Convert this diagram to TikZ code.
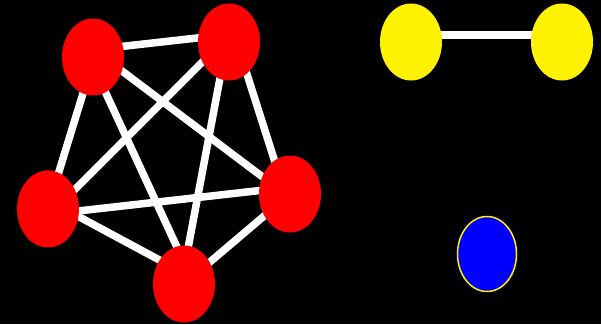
\documentclass[tikz,border=0pt]{standalone}
\usetikzlibrary{shapes.geometric,calc}
\pgfdeclarelayer{bg}
\pgfsetlayers{bg,main}
\begin{document}
\begin{tikzpicture}[x=1pt,y=-1pt,
  vert/.style={ellipse, minimum width=62pt, minimum height=77pt, inner sep=0pt},
  rednode/.style={vert, fill=red},
  yelnode/.style={vert, fill=yellow},
  bluenode/.style={vert, fill=blue, draw=yellow, line width=1.5pt, minimum width=59pt, minimum height=75pt},
  edge/.style={white, line width=7.5pt}]
\node[rednode] (a) at (93,57) {};
\node[rednode] (b) at (229,42) {};
\node[rednode] (c) at (48,209) {};
\node[rednode] (d) at (290,194) {};
\node[rednode] (e) at (184,284) {};
\node[yelnode] (y1) at (411,42) {};
\node[yelnode] (y2) at (562,42) {};
\node[bluenode] (bl) at (487,254) {};
\begin{pgfonlayer}{bg}
\fill[black] (0,0) rectangle (601,324);
\draw[edge] ($(a.center)+(0,-7.3)$) -- ($(b.center)+(0,-7.6)$);
\draw[edge] ($(a.center)+(1.2,0)$) -- ($(c.center)+(-0.5,0)$);
\draw[edge] ($(a.center)+(0,-7.9)$) -- ($(d.center)+(0,3.6)$);
\draw[edge] ($(a.center)+(-3.8,0)$) -- ($(e.center)+(10,0)$);
\draw[edge] ($(b.center)+(0,-6.6)$) -- ($(c.center)+(0,7.4)$);
\draw[edge] ($(b.center)+(7.7,0)$) -- ($(d.center)+(-4.8,0)$);
\draw[edge] ($(b.center)+(-2.2,0)$) -- ($(e.center)+(-2.7,0)$);
\draw[edge] ($(c.center)+(0,5.4)$) -- ($(d.center)+(0,-6.9)$);
\draw[edge] ($(c.center)+(0,-8.9)$) -- ($(e.center)+(0,-10.8)$);
\draw[edge] (d.center) -- (e.center);
\draw[edge,line width=8pt] ($(y1.center)+(0,-7.5)$) -- ($(y2.center)+(0,-7.5)$);
\end{pgfonlayer}
\useasboundingbox (0,0) rectangle (601,324);
\end{tikzpicture}
\end{document}
